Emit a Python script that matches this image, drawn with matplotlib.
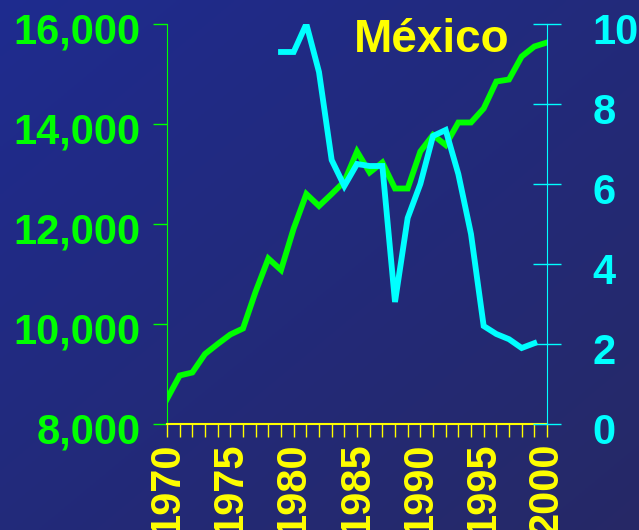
import numpy as np
import matplotlib
matplotlib.use("Agg")
import matplotlib.pyplot as plt
from matplotlib.transforms import ScaledTranslation

years = list(range(1970, 2001))
gdp_pc = [8500, 8970, 9030, 9400, 9600, 9790, 9910, 10650, 11310, 11080,
          11910, 12600, 12360, 12600, 12850, 13450, 13030, 13230, 12710, 12710,
          13450, 13780, 13580, 14030, 14030, 14310, 14850, 14890, 15350, 15550,
          15630]

rate_years = list(range(1979, 2000))
rate = [9.3, 9.3, 10.0, 8.8, 6.6, 5.95, 6.5, 6.45, 6.45, 3.05, 5.15,
        6.0, 7.2, 7.35, 6.25, 4.75, 2.45, 2.25, 2.12, 1.9, 2.02]

left_ticks = [8000, 10000, 12000, 14000, 16000]
right_ticks = [0, 2, 4, 6, 8, 10]
year_labels = [1970, 1975, 1980, 1985, 1990, 1995, 2000]

GREEN = "#00ff00"
CYAN = "#00ffff"
YELLOW = "#ffff00"

plt.rcParams["font.family"] = ["Liberation Sans", "DejaVu Sans"]
plt.rcParams["font.weight"] = "bold"

fig = plt.figure(figsize=(6.39, 5.30), dpi=100)

# diagonal blue background
bg = fig.add_axes([0, 0, 1, 1], zorder=-10)
gx, gy = np.meshgrid(np.linspace(0, 1, 200), np.linspace(0, 1, 200))
t = np.clip((gx + gy) / 2, 0, 1)
c0 = np.array([0.12, 0.17, 0.56])
c1 = np.array([0.15, 0.16, 0.40])
img = c0[None, None, :] * (1 - t[..., None]) + c1[None, None, :] * t[..., None]
bg.imshow(img, aspect="auto", extent=[0, 1, 0, 1], origin="upper")
bg.axis("off")

ax = fig.add_axes([167 / 639, 106 / 530, 380 / 639, 400 / 530])
ax.patch.set_alpha(0)
ax.plot(years, gdp_pc, color=GREEN, lw=4.2, solid_joinstyle="miter", zorder=3)
ax.set_xlim(1970, 2000)
ax.set_ylim(8000, 16000)
ax.set_yticks(left_ticks)
ax.set_yticklabels([f"{v:,}" for v in left_ticks])
ax.tick_params(axis="y", colors=GREEN, labelsize=30, length=10, width=1, pad=9)
ax.set_xticks(years, minor=True)
ax.set_xticks(year_labels)
ax.set_xticklabels([str(y) for y in year_labels], rotation=90, va="top")
ax.tick_params(axis="x", which="both", colors=YELLOW, labelsize=30,
               length=9, width=1, pad=4)
ax.spines["left"].set_color(GREEN)
ax.spines["bottom"].set_color(YELLOW)
ax.spines["bottom"].set_linewidth(1.5)
ax.spines["top"].set_visible(False)
ax.spines["right"].set_visible(False)

ax2 = ax.twinx()
ax2.plot(rate_years, rate, color=CYAN, lw=4.2, solid_joinstyle="miter", zorder=4)
ax2.set_ylim(0, 10)
ax2.set_yticks(right_ticks)
ax2.tick_params(axis="y", colors=CYAN, labelsize=30, direction="inout",
                length=20, width=1, pad=23)
ax2.spines["right"].set_color(CYAN)
for s in ["left", "top", "bottom"]:
    ax2.spines[s].set_visible(False)

# nudge the value labels a little below their ticks
shift = ScaledTranslation(0, -4 / 100, fig.dpi_scale_trans)
for lbl in ax.get_yticklabels() + ax2.get_yticklabels():
    lbl.set_transform(lbl.get_transform() + shift)

fig.text(432 / 639, 1 - 52 / 530, "México", color=YELLOW, fontsize=33,
         fontweight="bold", ha="center", va="baseline")

fig.savefig("out.png", dpi=100)
